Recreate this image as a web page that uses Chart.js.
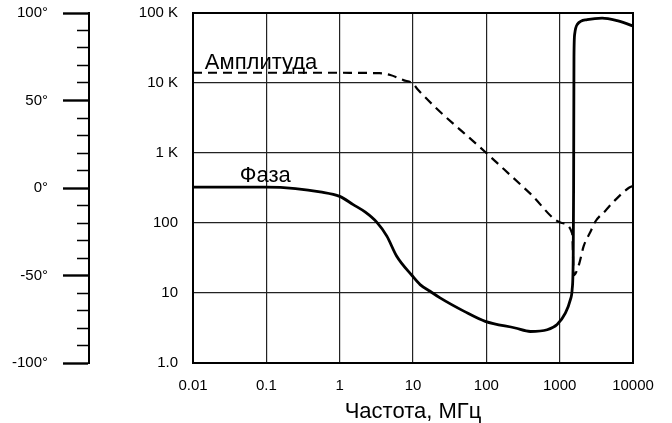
<!DOCTYPE html>
<html>
<head>
<meta charset="utf-8">
<title>Амплитуда и фаза</title>
<script src="https://cdn.jsdelivr.net/npm/chart.js@4.4.1/dist/chart.umd.min.js"></script>
<style>
    html, body { margin: 0; padding: 0; background: #ffffff; }
</style>
</head>
<body>
<canvas id="myChart" width="672" height="423"></canvas>
<script>

const freqTicks = [0.01, 0.1, 1, 10, 100, 1000, 10000];
const freqTickLabels = ["0.01", "0.1", "1", "10", "100", "1000", "10000"];

const ampTicks = [1, 10, 100, 1000, 10000, 100000];
const ampTickLabels = ["1.0", "10", "100", "1 K", "10 K", "100 K"];

const phaseTicks = [-100, -90, -80, -70, -60, -50, -40, -30, -20, -10, 0, 10, 20, 30, 40, 50, 60, 70, 80, 90, 100];
const phaseMajorTicks = [-100, -50, 0, 50, 100];

// амплитуда (пунктир), МГц -> Ом
const ampFreq = [0.01, 0.1, 1, 3.5, 4.9, 7.4, 10, 11.7, 100, 398, 1070, 1480, 1560, 1820, 2130, 2630, 3070, 4210, 5750, 8710, 10000];
const ampValues = [14000, 14000, 14000, 13800, 13000, 11000, 9800, 8000, 1000, 263, 100, 71, 18, 25, 47, 75, 105, 150, 214, 316, 339];

// фаза (сплошная), МГц -> градусы
const phaseFreq = [0.01, 0.1, 0.25, 0.54, 1, 1.53, 2.24, 3.2, 4.4, 6.0, 9.7, 12.5, 17.1, 23.4, 50, 96.6, 248, 398, 676, 923, 1200, 1400, 1480, 1530, 1549, 1567, 1603, 1740, 2370, 3800, 6080, 9250, 10000];
const phaseValues = [0.5, 0.5, -0.3, -2.2, -4.8, -9.5, -13.8, -19.5, -27.5, -39, -50, -55.2, -59, -62.8, -70.5, -76.2, -80, -82, -81, -78, -71.4, -63.8, -58, -40, 0, 75, 88, 93.5, 96.2, 97.1, 95.6, 93.1, 92.5];

const curveLabels = [
    { text: "Амплитуда", freq: 0.0145, value: 15600, axis: "y" },
    { text: "Фаза", freq: 0.0435, value: 3.2, axis: "phase" }
];

const FONT = "'Liberation Sans', Arial, Helvetica, sans-serif";

const toPoints = (xs, ys) => xs.map((x, i) => ({ x: x, y: ys[i] }));

const setTicks = (values) => (scale) => {
    scale.ticks = values.map((v) => ({ value: v }));
};

const fitVertical = (width) => (scale) => {
    scale.width = width;
    scale.paddingTop = 0;
    scale.paddingBottom = 0;
};

const framePlugin = {
    id: "frame",
    afterDatasetsDraw: (chart) => {
        const ctx = chart.ctx;
        const a = chart.chartArea;
        ctx.save();
        ctx.strokeStyle = "#000";
        ctx.lineWidth = 2;
        ctx.strokeRect(a.left, a.top, a.right - a.left, a.bottom - a.top);

        ctx.fillStyle = "#000";
        ctx.font = "22px " + FONT;
        ctx.textAlign = "left";
        ctx.textBaseline = "alphabetic";
        for (let i = 0; i < curveLabels.length; i++) {
            const lbl = curveLabels[i];
            const x = chart.scales.x.getPixelForValue(lbl.freq);
            const y = chart.scales[lbl.axis].getPixelForValue(lbl.value);
            ctx.fillText(lbl.text, x, y);
        }
        ctx.restore();
    }
};

const ctx = document.getElementById("myChart").getContext("2d");
const myChart = new Chart(ctx, {
    type: "line",
    data: {
        datasets: [{
            label: "Амплитуда",
            data: toPoints(ampFreq, ampValues),
            yAxisID: "y",
            borderColor: "#000",
            borderWidth: 2.2,
            borderDash: [9, 6],
            pointRadius: 0,
            cubicInterpolationMode: "monotone",
            fill: false
        }, {
            label: "Фаза",
            data: toPoints(phaseFreq, phaseValues),
            yAxisID: "phase",
            borderColor: "#000",
            borderWidth: 2.8,
            pointRadius: 0,
            cubicInterpolationMode: "monotone",
            fill: false
        }]
    },
    options: {
        responsive: false,
        animation: false,
        devicePixelRatio: 1,
        layout: { padding: { top: 13, right: 39, left: 0, bottom: 0 } },
        plugins: {
            legend: { display: false },
            tooltip: { enabled: false }
        },
        scales: {
            x: {
                type: "logarithmic",
                position: "bottom",
                min: 0.01,
                max: 10000,
                afterBuildTicks: setTicks(freqTicks),
                afterFit: (scale) => { scale.height = 60; },
                grid: { color: "#222", lineWidth: 1.2, drawTicks: false },
                border: { color: "#000", width: 2 },
                ticks: {
                    autoSkip: false,
                    maxRotation: 0,
                    padding: 14,
                    color: "#000",
                    font: { family: FONT, size: 15 },
                    callback: (value) => freqTickLabels[freqTicks.indexOf(value)]
                },
                title: {
                    display: true,
                    text: "Частота, МГц",
                    color: "#000",
                    font: { family: FONT, size: 22, lineHeight: 1 },
                    padding: { top: 0, bottom: 0 }
                }
            },
            y: {
                type: "logarithmic",
                position: "left",
                weight: 0,
                min: 1,
                max: 100000,
                afterBuildTicks: setTicks(ampTicks),
                afterFit: fitVertical(104),
                grid: { color: "#222", lineWidth: 1.2, drawTicks: false },
                border: { color: "#000", width: 2 },
                ticks: {
                    autoSkip: false,
                    padding: 15,
                    color: "#000",
                    font: { family: FONT, size: 15 },
                    callback: (value) => ampTickLabels[ampTicks.indexOf(value)]
                }
            },
            phase: {
                type: "linear",
                position: "left",
                weight: 1,
                min: -100,
                max: 100,
                afterBuildTicks: setTicks(phaseTicks),
                afterFit: fitVertical(89),
                grid: {
                    drawOnChartArea: false,
                    tickLength: 26,
                    tickColor: "#000",
                    tickWidth: (c) => phaseMajorTicks.includes(c.tick.value) ? 2.4 : 1.6,
                    tickBorderDash: (c) => phaseMajorTicks.includes(c.tick.value) ? [] : [0, 14, 12, 0]
                },
                border: { color: "#000", width: 2 },
                ticks: {
                    autoSkip: false,
                    padding: 15,
                    color: "#000",
                    font: { family: FONT, size: 15 },
                    callback: (value) => phaseMajorTicks.includes(value) ? value + "°" : ""
                }
            }
        }
    },
    plugins: [framePlugin]
});

</script>
</body>
</html>
